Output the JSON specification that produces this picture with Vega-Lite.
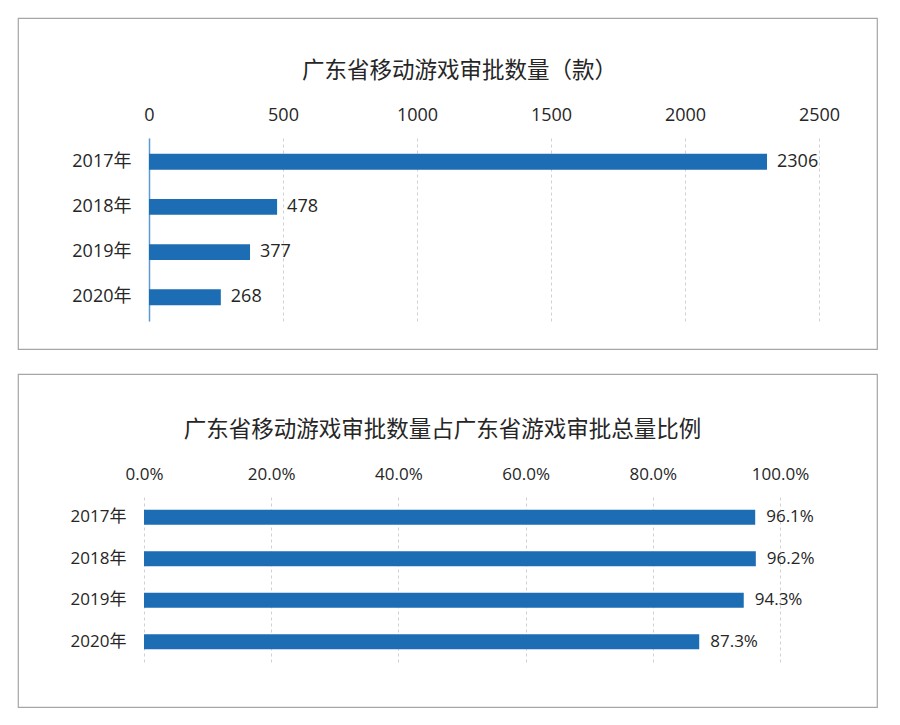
{
  "$schema": "https://vega.github.io/schema/vega-lite/v6.json",
  "autosize": {"type": "pad"},
  "padding": {"left": 17, "top": 17, "right": 20, "bottom": 15},
  "background": "white",
  "spacing": 23,
  "config": {
    "font": "Open Sans, Noto Sans CJK SC",
    "view": {"stroke": "#a6a6a6", "strokeWidth": 1.2},
    "axis": {"labelFont": "Open Sans, Noto Sans CJK SC", "labelColor": "#262626", "labelFontSize": 18, "ticks": false, "title": null, "labelFlush": false, "labelOverlap": false},
    "title": {"font": "Noto Sans CJK SC", "fontSize": 22.5, "fontWeight": "normal", "color": "#262626", "frame": "group", "anchor": "middle"}
  },
  "vconcat": [
    {
      "width": 859,
      "height": 331,
      "title": {"text": "广东省移动游戏审批数量（款）", "offset": -64, "dx": 12},
      "data": {"values": [
        {"year": "2017年", "count": 2306},
        {"year": "2018年", "count": 478},
        {"year": "2019年", "count": 377},
        {"year": "2020年", "count": 268}
      ]},
      "encoding": {
        "y": {"field": "year", "type": "nominal", "sort": null,
          "scale": {"range": [120, 303], "paddingInner": 0.65, "paddingOuter": 0.35},
          "axis": {"orient": "left", "offset": -131, "domain": true, "domainColor": "#5b9bd5", "domainWidth": 1.5, "labelPadding": 18, "grid": false}},
        "x": {"field": "count", "type": "quantitative",
          "scale": {"domain": [0, 2500], "range": [131, 801], "nice": false},
          "axis": {"orient": "top", "offset": -120, "values": [0, 500, 1000, 1500, 2000, 2500], "format": "d", "domain": false, "labelPadding": 14, "grid": true, "gridColor": "#d0d0d0", "gridDash": [3, 3], "gridWidth": 1}}
      },
      "layer": [
        {"mark": {"type": "bar", "color": "#1d6db5"}},
        {"mark": {"type": "text", "align": "left", "baseline": "middle", "dx": 10, "fontSize": 18, "color": "#262626", "font": "Open Sans"},
          "encoding": {"text": {"field": "count", "type": "quantitative", "format": "d"}}}
      ]
    },
    {
      "width": 859,
      "height": 333,
      "title": {"text": "广东省移动游戏审批数量占广东省游戏审批总量比例", "offset": -67, "dx": -5},
      "data": {"values": [
        {"year": "2017年", "share": 0.961},
        {"year": "2018年", "share": 0.962},
        {"year": "2019年", "share": 0.943},
        {"year": "2020年", "share": 0.873}
      ]},
      "encoding": {
        "y": {"field": "year", "type": "nominal", "sort": null,
          "scale": {"range": [123, 288], "paddingInner": 0.64, "paddingOuter": 0.31},
          "axis": {"orient": "left", "offset": -126, "domain": false, "labelPadding": 18, "grid": false, "labelFontSize": 17}},
        "x": {"field": "share", "type": "quantitative",
          "scale": {"domain": [0, 1], "range": [126, 762], "nice": false},
          "axis": {"orient": "top", "offset": -123, "values": [0, 0.2, 0.4, 0.6, 0.8, 1], "format": ".1%", "domain": false, "labelPadding": 14, "labelFontSize": 17, "grid": true, "gridColor": "#d0d0d0", "gridDash": [3, 3], "gridWidth": 1}}
      },
      "layer": [
        {"mark": {"type": "bar", "color": "#1d6db5"}},
        {"mark": {"type": "text", "align": "left", "baseline": "middle", "dx": 11, "fontSize": 17, "color": "#262626", "font": "Open Sans"},
          "encoding": {"text": {"field": "share", "type": "quantitative", "format": ".1%"}}}
      ]
    }
  ]
}
